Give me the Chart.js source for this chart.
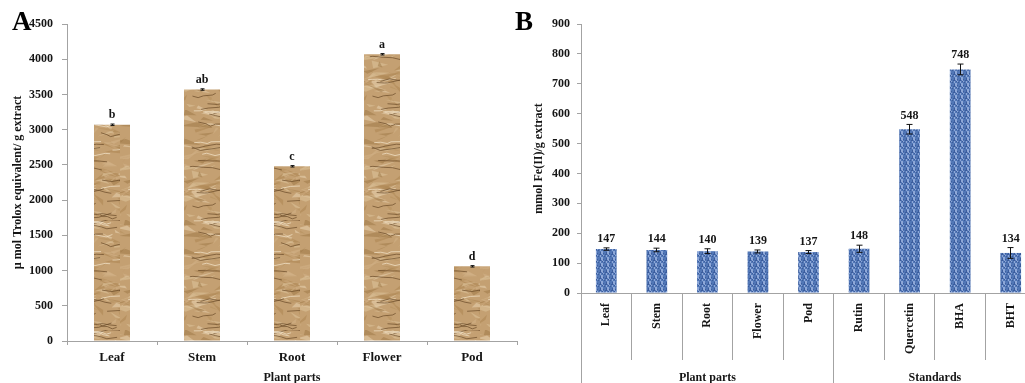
<!DOCTYPE html>
<html>
<head>
<meta charset="utf-8">
<script src="https://cdn.jsdelivr.net/npm/chart.js@4.4.0/dist/chart.umd.min.js"></script>
<style>
html, body { margin: 0; padding: 0; background: #fff; overflow: hidden; }
#wrap { position: relative; width: 1025px; height: 383px; overflow: hidden; }
canvas { position: absolute; top: 0; }
#chartA { left: 0; }
#chartB { left: 500px; }
.panel { position: absolute; font-family: 'Liberation Serif', serif; font-weight: bold; font-size: 27px; color: #000; line-height: 1; }
</style>
</head>
<body>
<div id="wrap">
  <canvas id="chartA" width="545" height="390"></canvas>
  <canvas id="chartB" width="560" height="390"></canvas>
  <div class="panel" style="left:12px;top:8px">A</div>
  <div class="panel" style="left:515px;top:8px">B</div>
</div>
<script>
// panel A - trolox equivalents
var partLabels = ['Leaf', 'Stem', 'Root', 'Flower', 'Pod'];
var troloxValues = [3070, 3570, 2480, 4070, 1060];
var troloxErrors = [10, 10, 10, 10, 10];
var troloxLetters = ['b', 'ab', 'c', 'a', 'd'];

// panel B - FRAP
var frapLabels = ['Leaf', 'Stem', 'Root', 'Flower', 'Pod', 'Rutin', 'Quercetin', 'BHA', 'BHT'];
var frapValues = [147, 144, 140, 139, 137, 148, 548, 748, 134];
var frapErrors = [4, 6, 8, 5, 5, 12, 16, 18, 18];
var frapGroups = ['Plant parts', 'Standards'];
var frapGroupStarts = [0, 5, 9];

var serif = "'Liberation Serif', 'Times New Roman', serif";
var axisGray = '#a3a3a3';
var textColor = '#151515';

function lcg(seed) {
    return function () {
        seed = (seed * 16807) % 2147483647;
        return seed / 2147483647;
    };
}

// crumpled paper look for panel A
function paperPattern() {
    var c = document.createElement('canvas');
    c.width = 60; c.height = 110;
    var g = c.getContext('2d');
    var r = lcg(12345);
    g.fillStyle = '#c4a072';
    g.fillRect(0, 0, c.width, c.height);
    var shades = ['#e0c7a0', '#a9814e', '#ecd8b8', '#b48d5a', '#d3b389', '#9c7544'];
    for (var i = 0; i < 110; i++) {
        g.fillStyle = shades[i % shades.length];
        g.globalAlpha = 0.5;
        var x = r() * 60, y = r() * 110;
        g.beginPath();
        g.moveTo(x, y);
        g.lineTo(x + (r() - 0.5) * 36, y + (r() - 0.5) * 14);
        g.lineTo(x + (r() - 0.5) * 36, y + (r() - 0.5) * 14);
        g.closePath();
        g.fill();
    }
    for (var j = 0; j < 26; j++) {
        g.globalAlpha = 0.7;
        g.strokeStyle = j % 3 == 0 ? '#f4e6cc' : '#6a4a28';
        g.lineWidth = 1;
        var sx = r() * 60, sy = r() * 110;
        g.beginPath();
        g.moveTo(sx, sy);
        for (var k = 0; k < 4; k++) {
            sx += 3 + r() * 8;
            sy += (r() - 0.5) * 5;
            g.lineTo(sx, sy);
        }
        g.stroke();
    }
    g.globalAlpha = 1;
    return c;
}

// speckled blue for panel B
function dotPattern() {
    var c = document.createElement('canvas');
    c.width = 6; c.height = 6;
    var g = c.getContext('2d');
    var r = lcg(777);
    g.fillStyle = '#5277b6';
    g.fillRect(0, 0, 6, 6);
    for (var i = 0; i < 6; i++) {
        for (var j = 0; j < 6; j++) {
            var v = r();
            if (v < 0.32) g.fillStyle = '#8ea8d8';
            else if (v < 0.5) g.fillStyle = '#3b5c9c';
            else continue;
            g.fillRect(i, j, 1, 1);
        }
    }
    return c;
}

function alignPx(p) {
    return Math.round(p - 0.5) + 0.5;
}

function barMarks(errors, capWidth, texts, font, gap) {
    return {
        id: 'barMarks',
        afterDatasetsDraw: function (chart) {
            var ctx = chart.ctx;
            var meta = chart.getDatasetMeta(0);
            var y = chart.scales.y;
            var data = chart.data.datasets[0].data;
            ctx.save();
            ctx.strokeStyle = '#111';
            ctx.lineWidth = 1;
            meta.data.forEach(function (bar, i) {
                var x = alignPx(bar.x);
                var top = y.getPixelForValue(data[i] + errors[i]);
                var bot = y.getPixelForValue(data[i] - errors[i]);
                ctx.beginPath();
                ctx.moveTo(x, top); ctx.lineTo(x, bot);
                ctx.moveTo(x - capWidth / 2, top); ctx.lineTo(x + capWidth / 2, top);
                ctx.moveTo(x - capWidth / 2, bot); ctx.lineTo(x + capWidth / 2, bot);
                ctx.stroke();
                ctx.fillStyle = textColor;
                ctx.font = font;
                ctx.textAlign = 'center';
                ctx.textBaseline = 'bottom';
                ctx.fillText(texts[i], bar.x, top - gap);
            });
            ctx.restore();
        }
    };
}

var groupLines = {
    id: 'groupLines',
    afterDraw: function (chart) {
        var ctx = chart.ctx;
        var xs = chart.scales.x;
        var step = (xs.right - xs.left) / frapLabels.length;
        var bottom = chart.chartArea.bottom;
        ctx.save();
        ctx.strokeStyle = axisGray;
        ctx.lineWidth = 1;
        frapGroupStarts.forEach(function (b) {
            var x = alignPx(xs.getPixelForValue(b) - step / 2);
            ctx.beginPath();
            ctx.moveTo(x, bottom + 60);
            ctx.lineTo(x, chart.height);
            ctx.stroke();
        });
        ctx.fillStyle = textColor;
        ctx.font = 'bold 12px ' + serif;
        ctx.textAlign = 'center';
        ctx.textBaseline = 'middle';
        for (var i = 0; i < frapGroups.length; i++) {
            var cx = xs.left + (frapGroupStarts[i] + frapGroupStarts[i + 1]) / 2 * step;
            ctx.fillText(frapGroups[i], cx, 378);
        }
        ctx.restore();
    }
};

function makePattern(canvasId, src) {
    var ctx = document.getElementById(canvasId).getContext('2d');
    return ctx.createPattern(src, 'repeat');
}

function plainTick(v) {
    return String(v);
}

new Chart(document.getElementById('chartA'), {
    type: 'bar',
    data: {
        labels: partLabels,
        datasets: [{
            data: troloxValues,
            backgroundColor: makePattern('chartA', paperPattern()),
            barPercentage: 0.4,
            categoryPercentage: 1
        }]
    },
    options: {
        responsive: false,
        animation: false,
        devicePixelRatio: 1,
        layout: { padding: { top: 24, right: 28, left: 0, bottom: 0 } },
        plugins: { legend: { display: false }, tooltip: { enabled: false } },
        scales: {
            x: {
                offset: true,
                grid: { drawOnChartArea: false, drawTicks: true, tickLength: 4, color: axisGray, offset: true },
                border: { color: axisGray },
                ticks: { font: { family: serif, size: 13, weight: 'bold' }, color: textColor, padding: 5, maxRotation: 0 },
                title: { display: true, text: 'Plant parts', font: { family: serif, size: 12, weight: 'bold' }, color: textColor, padding: { top: 0, bottom: 5 } },
                afterFit: function (s) { s.height = 49; }
            },
            y: {
                min: 0,
                max: 4500,
                grid: { drawOnChartArea: false, tickLength: 5, color: axisGray },
                border: { color: axisGray },
                ticks: { stepSize: 500, callback: plainTick, font: { family: serif, size: 12, weight: 'bold' }, color: textColor, padding: 9 },
                title: { display: true, text: 'µ mol Trolox equivalent/ g extract', font: { family: serif, size: 12, weight: 'bold' }, color: textColor, padding: { top: 11, bottom: 0 } },
                afterFit: function (s) { s.width = 67; }
            }
        }
    },
    plugins: [barMarks(troloxErrors, 4, troloxLetters, 'bold 12px ' + serif, 3)]
});

new Chart(document.getElementById('chartB'), {
    type: 'bar',
    data: {
        labels: frapLabels,
        datasets: [{
            data: frapValues,
            backgroundColor: makePattern('chartB', dotPattern()),
            barPercentage: 0.41,
            categoryPercentage: 1
        }]
    },
    options: {
        responsive: false,
        animation: false,
        devicePixelRatio: 1,
        layout: { padding: { top: 24, right: 24, left: 0, bottom: 0 } },
        plugins: { legend: { display: false }, tooltip: { enabled: false } },
        scales: {
            x: {
                offset: true,
                grid: { drawOnChartArea: false, drawTicks: true, tickLength: 67, color: axisGray, offset: true },
                border: { color: axisGray },
                ticks: { font: { family: serif, size: 12, weight: 'bold' }, color: textColor, padding: -57, minRotation: 90, maxRotation: 90, autoSkip: false },
                afterFit: function (s) { s.height = 97; }
            },
            y: {
                min: 0,
                max: 900,
                grid: { drawOnChartArea: false, tickLength: 4, color: axisGray },
                border: { color: axisGray },
                ticks: { stepSize: 100, callback: plainTick, font: { family: serif, size: 12, weight: 'bold' }, color: textColor, padding: 7 },
                title: { display: true, text: 'mmol Fe(II)/g extract', font: { family: serif, size: 12, weight: 'bold' }, color: textColor, padding: { top: 32, bottom: 0 } },
                afterFit: function (s) { s.width = 81; }
            }
        }
    },
    plugins: [barMarks(frapErrors, 6, frapValues.map(String), 'bold 12px ' + serif, 3), groupLines]
});
</script>
</body>
</html>
